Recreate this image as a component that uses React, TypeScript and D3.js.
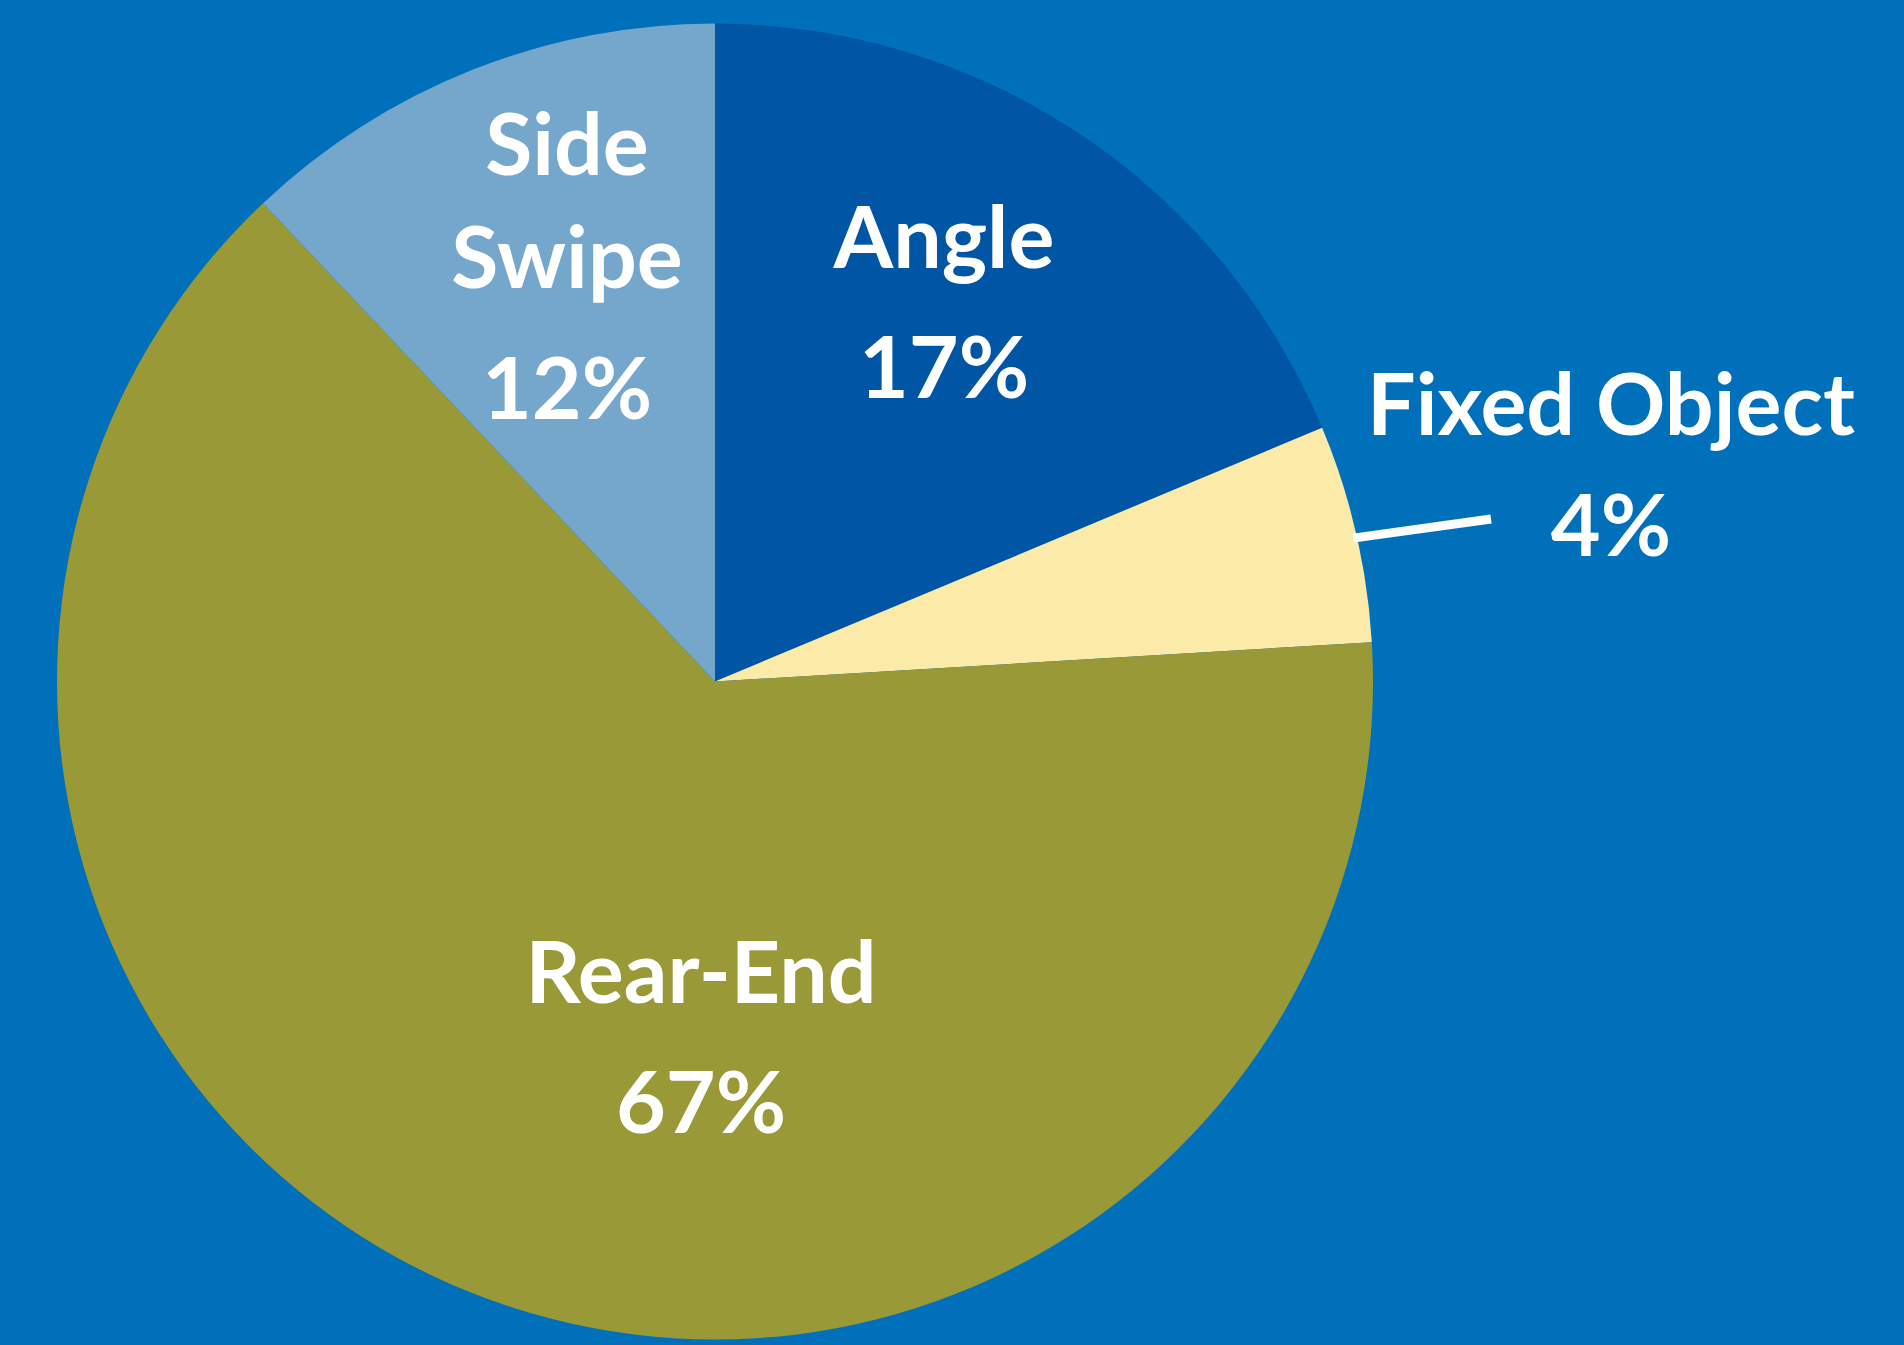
import React from "react";
import * as d3 from "d3";

const categories = ["Angle", "Fixed Object", "Rear-End", "Side Swipe"];
const sliceValues = [18.7, 5.35, 63.9, 12.05];
const percentLabels = ["17%", "4%", "67%", "12%"];
const sliceColors = ["#0055A4", "#FCEBA8", "#999937", "#74A7CB"];

const W = 1904;
const H = 1345;
const BG = "#0070BA";
const CX = 715;
const CY = 681.5;
const R = 658;

// label layout (name lines, percent), positions in px
const labelLayout = [
  { lines: ["Angle"], x: 944, y: 268, py: 398 },
  { lines: ["Fixed Object"], x: 1611, y: 435, py: 556 },
  { lines: ["Rear-End"], x: 701, y: 1003, py: 1133 },
  { lines: ["Side", "Swipe"], x: 567, y: 175, py: 419, ly: [175, 288] },
];

export default function App() {
  const pie = d3
    .pie<number>()
    .sort(null)
    .value((d) => d)
    .startAngle(0)
    .endAngle(2 * Math.PI);
  const arcs = pie(sliceValues);
  const arc = d3.arc<d3.PieArcDatum<number>>().innerRadius(0).outerRadius(R);

  // leader line for Fixed Object: starts just inside the slice edge
  const fo = arcs[1];
  const ang = fo.startAngle + (fo.endAngle - fo.startAngle) * 0.52;
  const leaderStart: [number, number] = [CX + Math.sin(ang) * (R - 4), CY - Math.cos(ang) * (R - 4)];
  const leaderEnd: [number, number] = [1491, 519];

  const font = "Lato, 'Open Sans', sans-serif";
  const fs = 86;

  return (
    <svg
      width={W}
      height={H}
      style={{ position: "absolute", left: 0, top: 0, display: "block" }}
    >
      <rect x={0} y={0} width={W} height={H} fill={BG} />
      <g transform={`translate(${CX},${CY})`}>
        {arcs.map((a, i) => (
          <path key={categories[i]} d={arc(a) || ""} fill={sliceColors[i]} />
        ))}
      </g>
      <line
        x1={leaderStart[0]}
        y1={leaderStart[1]}
        x2={leaderEnd[0]}
        y2={leaderEnd[1]}
        stroke="#FFFFFF"
        strokeWidth={9}
      />
      {labelLayout.map((l, i) => (
        <g key={categories[i]} fill="#FFFFFF" fontFamily={font} fontWeight={700} fontSize={fs} textAnchor="middle">
          {l.lines.map((t, j) => (
            <text key={t} x={l.x} y={l.ly ? l.ly[j] : l.y}>
              {t}
            </text>
          ))}
          <text x={l.x} y={l.py}>
            {percentLabels[i]}
          </text>
        </g>
      ))}
    </svg>
  );
}
